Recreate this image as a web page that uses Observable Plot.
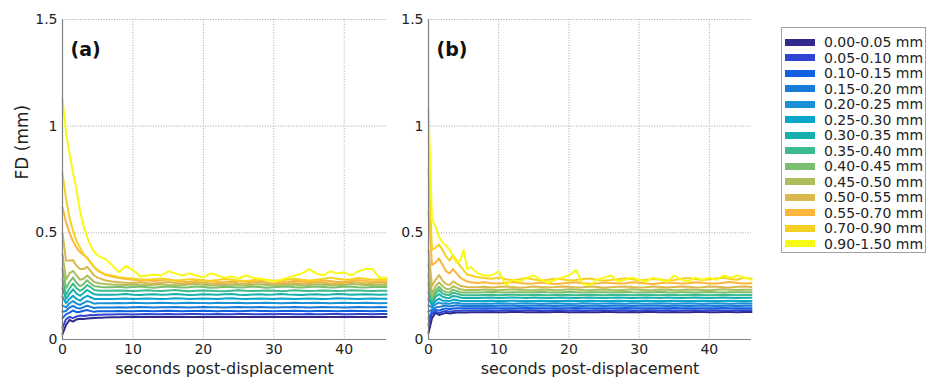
<!DOCTYPE html>
<html><head><meta charset="utf-8">
<script src="https://cdn.jsdelivr.net/npm/d3@7"></script>
<script src="https://cdn.jsdelivr.net/npm/@observablehq/plot@0.6"></script>
<style>
body{margin:0;background:#fff;font-family:"DejaVu Sans",sans-serif;}
#fig{position:relative;width:929px;height:388px;overflow:hidden;background:#fff}
#pa{position:absolute;left:0;top:0}
#pb{position:absolute;left:392px;top:0}
#legend{position:absolute;left:781px;top:27px;width:145px;height:226px;border:1px solid #a0a0a0;box-sizing:border-box;background:#fff}
.row{position:absolute;left:0;height:16px;display:flex;align-items:center;white-space:nowrap}
.sw{width:30px;height:7px;margin-left:3px;margin-right:9px}
.lb{font-size:14px;color:#222;font-family:"DejaVu Sans",sans-serif}
</style></head>
<body><div id="fig"><div id="pa"></div><div id="pb"></div><div id="legend"></div></div>
<script>
const time = [0,0.5,1,1.5,2,2.5,3,3.5,4,4.5,5,5.5,6,7,8,9,10,11,12,13,14,15,16,17,18,19,20,21,22,23,24,25,26,27,28,29,30,31,32,33,34,35,36,37,38,39,40,41,42,43,44,45,46];
const bins = ["0.00-0.05 mm","0.05-0.10 mm","0.10-0.15 mm","0.15-0.20 mm","0.20-0.25 mm","0.25-0.30 mm","0.30-0.35 mm","0.35-0.40 mm","0.40-0.45 mm","0.45-0.50 mm","0.50-0.55 mm","0.55-0.70 mm","0.70-0.90 mm","0.90-1.50 mm"];
const colors = ["#312a8a","#2f45d2","#1060e0","#1779d8","#1a90d6","#0aa5ca","#17b0ac","#3cbb8e","#7abf70","#acbd5c","#d9b84e","#fcb63b","#f5d124","#f9fa14"];
const xTicks = [0,10,20,30,40];
const yTicks = [0,0.5,1,1.5];

// panel (a)
const a0 = [0.025,0.068,0.092,0.084,0.094,0.097,0.096,0.098,0.1,0.101,0.102,0.102,0.103,
0.104,0.104,0.105,0.105,0.105,0.106,0.105,0.105,0.106,0.106,
0.105,0.105,0.106,0.106,0.105,0.106,0.106,0.105,0.105,0.106,
0.106,0.105,0.105,0.106,0.106,0.105,0.106,0.106,0.105,0.105,
0.106,0.106,0.105,0.105,0.106,0.106,0.105,0.106,0.106,0.106];
const a1 = [0.055,0.095,0.106,0.1,0.108,0.112,0.11,0.113,0.115,0.114,0.116,0.116,0.117,
0.117,0.118,0.118,0.117,0.118,0.119,0.118,0.118,0.119,0.118,
0.118,0.119,0.119,0.118,0.118,0.119,0.118,0.118,0.119,0.119,
0.118,0.118,0.119,0.118,0.119,0.119,0.118,0.118,0.119,0.118,
0.118,0.119,0.119,0.118,0.118,0.119,0.119,0.118,0.119,0.119];
const a2 = [0.1,0.118,0.126,0.136,0.128,0.13,0.135,0.138,0.133,0.13,0.132,0.133,0.133,
0.133,0.134,0.133,0.133,0.134,0.134,0.133,0.134,0.135,0.134,
0.133,0.134,0.134,0.135,0.134,0.133,0.134,0.134,0.133,0.134,
0.135,0.134,0.134,0.133,0.134,0.134,0.135,0.134,0.133,0.134,
0.134,0.134,0.133,0.134,0.135,0.134,0.134,0.133,0.134,0.134];
const a3 = [0.13,0.134,0.15,0.158,0.148,0.145,0.152,0.158,0.153,0.148,0.15,0.15,0.15,
0.15,0.151,0.15,0.151,0.152,0.151,0.15,0.151,0.151,0.152,
0.151,0.15,0.151,0.152,0.151,0.151,0.15,0.151,0.152,0.151,
0.151,0.152,0.151,0.15,0.151,0.151,0.152,0.151,0.15,0.151,
0.152,0.151,0.151,0.15,0.151,0.152,0.151,0.151,0.152,0.151];
const a4 = [0.16,0.15,0.17,0.18,0.168,0.162,0.172,0.18,0.175,0.168,0.17,0.17,0.17,
0.17,0.171,0.17,0.172,0.171,0.17,0.171,0.172,0.171,0.17,
0.171,0.172,0.171,0.171,0.17,0.172,0.171,0.171,0.172,0.17,
0.171,0.171,0.172,0.171,0.17,0.171,0.172,0.171,0.171,0.172,
0.171,0.17,0.171,0.172,0.171,0.171,0.172,0.171,0.17,0.171];
const a5 = [0.2,0.17,0.19,0.205,0.19,0.182,0.195,0.205,0.198,0.19,0.19,0.19,0.19,
0.19,0.191,0.192,0.19,0.191,0.192,0.191,0.19,0.191,0.193,
0.192,0.19,0.191,0.192,0.191,0.19,0.192,0.193,0.191,0.19,
0.191,0.192,0.191,0.19,0.192,0.191,0.19,0.191,0.192,0.191,
0.19,0.191,0.193,0.192,0.191,0.19,0.191,0.192,0.191,0.191];
const a6 = [0.24,0.19,0.215,0.235,0.215,0.205,0.218,0.232,0.222,0.212,0.21,0.21,0.21,
0.21,0.211,0.213,0.21,0.209,0.211,0.212,0.21,0.211,0.213,
0.211,0.209,0.21,0.212,0.211,0.21,0.212,0.213,0.21,0.209,
0.211,0.212,0.21,0.211,0.213,0.211,0.21,0.209,0.211,0.212,
0.21,0.211,0.213,0.212,0.21,0.211,0.212,0.211,0.21,0.211];
const a7 = [0.28,0.21,0.24,0.262,0.24,0.228,0.238,0.255,0.245,0.232,0.23,0.228,0.228,
0.228,0.23,0.229,0.227,0.229,0.231,0.228,0.227,0.23,0.232,
0.229,0.226,0.228,0.23,0.229,0.227,0.226,0.229,0.231,0.228,
0.227,0.229,0.23,0.228,0.226,0.228,0.231,0.229,0.227,0.228,
0.23,0.229,0.227,0.228,0.231,0.23,0.228,0.227,0.229,0.228];
const a8 = [0.33,0.24,0.27,0.29,0.265,0.25,0.26,0.278,0.262,0.25,0.248,0.246,0.245,
0.245,0.247,0.244,0.246,0.248,0.245,0.243,0.246,0.249,0.246,
0.244,0.245,0.248,0.246,0.243,0.244,0.247,0.246,0.244,0.245,
0.248,0.246,0.243,0.245,0.247,0.248,0.245,0.244,0.246,0.248,
0.246,0.244,0.245,0.248,0.247,0.245,0.244,0.246,0.247,0.246];
const a9 = [0.4,0.28,0.31,0.322,0.3,0.28,0.285,0.3,0.285,0.27,0.265,0.262,0.26,
0.258,0.257,0.256,0.258,0.255,0.254,0.257,0.259,0.256,0.254,
0.255,0.258,0.26,0.257,0.254,0.253,0.256,0.258,0.255,0.254,
0.257,0.259,0.256,0.253,0.255,0.258,0.257,0.254,0.256,0.259,
0.257,0.255,0.254,0.257,0.26,0.258,0.255,0.256,0.258,0.256];
const a10 = [0.5,0.37,0.37,0.372,0.345,0.33,0.33,0.34,0.32,0.3,0.29,0.284,0.278,
0.272,0.268,0.266,0.265,0.268,0.264,0.262,0.266,0.27,0.265,
0.262,0.264,0.268,0.266,0.262,0.26,0.265,0.268,0.264,0.262,
0.266,0.27,0.265,0.261,0.263,0.267,0.265,0.262,0.264,0.268,
0.266,0.263,0.262,0.266,0.27,0.267,0.263,0.265,0.268,0.265];
const a11 = [0.62,0.55,0.5,0.46,0.43,0.41,0.395,0.385,0.36,0.34,0.325,0.315,0.305,
0.295,0.288,0.283,0.28,0.277,0.276,0.274,0.278,0.282,0.275,
0.272,0.27,0.275,0.278,0.273,0.27,0.268,0.272,0.276,0.272,
0.27,0.274,0.278,0.272,0.268,0.27,0.275,0.273,0.27,0.272,
0.276,0.274,0.27,0.271,0.276,0.279,0.274,0.271,0.274,0.272];
const a12 = [0.78,0.66,0.57,0.51,0.46,0.43,0.4,0.38,0.36,0.34,0.322,0.312,0.305,
0.3,0.292,0.288,0.285,0.282,0.28,0.283,0.286,0.28,0.277,
0.279,0.283,0.281,0.277,0.275,0.279,0.284,0.28,0.276,0.274,
0.278,0.282,0.279,0.275,0.277,0.281,0.285,0.28,0.277,0.28,
0.284,0.29,0.285,0.28,0.283,0.288,0.285,0.28,0.282,0.28];
const a13 = [1.13,0.97,0.87,0.78,0.7,0.6,0.53,0.48,0.44,0.41,0.395,0.385,0.38,
0.35,0.315,0.345,0.325,0.295,0.3,0.305,0.3,0.32,0.31,
0.3,0.31,0.3,0.29,0.31,0.3,0.29,0.295,0.285,0.3,
0.29,0.285,0.28,0.272,0.28,0.29,0.3,0.31,0.33,0.31,
0.3,0.32,0.31,0.315,0.3,0.32,0.33,0.33,0.29,0.29];

// panel (b)
const b0 = [0.03,0.1,0.125,0.115,0.12,0.125,0.122,0.124,0.126,0.126,0.127,0.127,0.128,
0.128,0.128,0.129,0.128,0.128,0.129,0.129,0.128,0.128,0.129,
0.128,0.129,0.129,0.128,0.128,0.129,0.128,0.128,0.129,0.129,
0.128,0.128,0.129,0.128,0.129,0.129,0.128,0.128,0.129,0.128,
0.128,0.129,0.129,0.128,0.128,0.129,0.129,0.128,0.129,0.129];
const b1 = [0.07,0.12,0.13,0.122,0.13,0.134,0.13,0.133,0.135,0.135,0.136,0.136,0.136,
0.136,0.137,0.136,0.136,0.137,0.137,0.136,0.137,0.137,0.136,
0.136,0.137,0.137,0.136,0.137,0.136,0.136,0.137,0.137,0.136,
0.137,0.137,0.136,0.136,0.137,0.137,0.136,0.137,0.136,0.136,
0.137,0.137,0.136,0.137,0.137,0.136,0.136,0.137,0.137,0.137];
const b2 = [0.1,0.13,0.14,0.135,0.142,0.146,0.142,0.145,0.147,0.146,0.146,0.146,0.146,
0.146,0.147,0.146,0.147,0.147,0.146,0.147,0.148,0.147,0.146,
0.147,0.147,0.146,0.147,0.148,0.147,0.146,0.147,0.147,0.146,
0.147,0.148,0.147,0.146,0.147,0.147,0.146,0.147,0.148,0.147,
0.146,0.147,0.147,0.146,0.147,0.148,0.147,0.146,0.147,0.147];
const b3 = [0.13,0.14,0.15,0.153,0.156,0.159,0.155,0.158,0.16,0.158,0.157,0.157,0.157,
0.157,0.158,0.157,0.158,0.159,0.158,0.157,0.158,0.158,0.159,
0.158,0.157,0.158,0.159,0.158,0.157,0.158,0.158,0.157,0.158,
0.159,0.158,0.157,0.158,0.158,0.159,0.158,0.157,0.158,0.158,
0.157,0.158,0.159,0.158,0.157,0.158,0.158,0.157,0.158,0.158];
const b4 = [0.16,0.15,0.165,0.173,0.168,0.17,0.167,0.172,0.172,0.169,0.168,0.168,0.168,
0.168,0.169,0.168,0.17,0.169,0.168,0.169,0.17,0.169,0.168,
0.169,0.17,0.169,0.168,0.168,0.17,0.169,0.168,0.169,0.17,
0.169,0.168,0.17,0.169,0.168,0.169,0.17,0.169,0.168,0.169,
0.17,0.169,0.168,0.169,0.17,0.169,0.168,0.169,0.17,0.169];
const b5 = [0.19,0.16,0.18,0.192,0.182,0.182,0.18,0.187,0.185,0.181,0.18,0.18,0.18,
0.18,0.181,0.182,0.18,0.181,0.182,0.181,0.18,0.181,0.182,
0.181,0.18,0.181,0.182,0.181,0.18,0.182,0.181,0.18,0.181,
0.182,0.181,0.18,0.181,0.182,0.181,0.18,0.181,0.182,0.181,
0.18,0.181,0.182,0.181,0.18,0.181,0.182,0.181,0.181,0.181];
const b6 = [0.22,0.17,0.2,0.213,0.2,0.196,0.195,0.204,0.202,0.197,0.195,0.195,0.195,
0.195,0.196,0.197,0.195,0.196,0.197,0.196,0.195,0.197,0.196,
0.195,0.196,0.197,0.196,0.195,0.196,0.197,0.196,0.195,0.196,
0.197,0.196,0.195,0.196,0.197,0.196,0.195,0.197,0.196,0.195,
0.196,0.197,0.196,0.195,0.196,0.197,0.196,0.195,0.196,0.196];
const b7 = [0.26,0.18,0.215,0.232,0.215,0.21,0.208,0.219,0.216,0.21,0.208,0.208,0.208,
0.208,0.209,0.21,0.208,0.209,0.21,0.209,0.208,0.21,0.209,
0.208,0.209,0.21,0.209,0.208,0.209,0.21,0.209,0.208,0.209,
0.21,0.209,0.208,0.209,0.21,0.209,0.208,0.21,0.209,0.208,
0.209,0.21,0.209,0.208,0.209,0.21,0.209,0.208,0.209,0.209];
const b8 = [0.3,0.19,0.23,0.247,0.23,0.222,0.22,0.233,0.228,0.222,0.22,0.22,0.22,
0.22,0.221,0.223,0.221,0.22,0.222,0.221,0.22,0.222,0.223,
0.221,0.22,0.221,0.223,0.222,0.22,0.221,0.222,0.221,0.22,
0.222,0.223,0.221,0.22,0.221,0.222,0.223,0.221,0.22,0.222,
0.221,0.22,0.222,0.223,0.221,0.22,0.221,0.222,0.221,0.221];
const b9 = [0.35,0.21,0.25,0.267,0.25,0.238,0.235,0.25,0.243,0.235,0.233,0.232,0.232,
0.232,0.234,0.233,0.231,0.233,0.235,0.233,0.231,0.232,0.234,
0.233,0.231,0.232,0.235,0.234,0.232,0.231,0.233,0.234,0.232,
0.231,0.233,0.235,0.233,0.231,0.232,0.234,0.233,0.231,0.232,
0.234,0.233,0.232,0.231,0.233,0.235,0.233,0.232,0.233,0.233];
const b10 = [0.42,0.25,0.28,0.302,0.275,0.26,0.255,0.272,0.262,0.252,0.248,0.246,0.245,
0.245,0.247,0.244,0.246,0.248,0.246,0.243,0.245,0.248,0.246,
0.244,0.246,0.249,0.247,0.244,0.245,0.248,0.246,0.243,0.245,
0.247,0.249,0.246,0.244,0.245,0.248,0.246,0.244,0.246,0.248,
0.247,0.244,0.245,0.248,0.247,0.245,0.244,0.247,0.248,0.246];
const b11 = [0.6,0.35,0.36,0.38,0.35,0.32,0.31,0.33,0.31,0.29,0.28,0.272,0.268,
0.265,0.268,0.264,0.262,0.266,0.27,0.265,0.261,0.263,0.267,
0.264,0.26,0.262,0.266,0.268,0.264,0.261,0.263,0.267,0.265,
0.262,0.264,0.268,0.266,0.262,0.26,0.264,0.267,0.265,0.262,
0.264,0.268,0.266,0.263,0.262,0.266,0.269,0.265,0.263,0.264];
const b12 = [0.8,0.42,0.43,0.445,0.42,0.39,0.37,0.395,0.37,0.345,0.325,0.305,0.3,
0.292,0.288,0.285,0.29,0.282,0.278,0.283,0.288,0.281,0.276,
0.28,0.285,0.282,0.277,0.279,0.284,0.286,0.28,0.276,0.279,
0.283,0.287,0.282,0.277,0.28,0.284,0.281,0.277,0.279,0.285,
0.288,0.283,0.279,0.281,0.286,0.289,0.284,0.28,0.29,0.285];
const b13 = [1.08,0.56,0.53,0.48,0.455,0.44,0.42,0.39,0.36,0.37,0.42,0.33,0.34,
0.31,0.3,0.3,0.32,0.255,0.28,0.27,0.29,0.3,0.28,
0.265,0.28,0.29,0.3,0.325,0.26,0.255,0.28,0.29,0.3,
0.272,0.28,0.29,0.28,0.272,0.29,0.28,0.27,0.3,0.28,
0.272,0.29,0.28,0.29,0.28,0.3,0.29,0.3,0.29,0.28];

const panelA = [a0,a1,a2,a3,a4,a5,a6,a7,a8,a9,a10,a11,a12,a13];
const panelB = [b0,b1,b2,b3,b4,b5,b6,b7,b8,b9,b10,b11,b12,b13];

function panel(series, tag, width, mL, mR, withYLabel) {
  const rows = [];
  series.forEach((vals, k) => vals.forEach((v, i) => rows.push({t: time[i], fd: v, bin: bins[k]})));
  const marks = [
    Plot.gridX(xTicks.filter(d => d > 0), {stroke: "#a8a8a8", strokeOpacity: 1, strokeDasharray: "1,1.6"}),
    Plot.gridY(yTicks.filter(d => d > 0), {stroke: "#a8a8a8", strokeOpacity: 1, strokeDasharray: "1,1.6"}),
    Plot.lineY(rows, {x: "t", y: "fd", z: "bin", stroke: "bin", strokeWidth: 2, strokeLinejoin: "round"}),
    Plot.ruleX([0], {stroke: "#808080", strokeWidth: 1.2}),
    Plot.ruleY([0], {stroke: "#808080", strokeWidth: 1.2}),
    Plot.axisX(xTicks, {tickSize: 0, tickPadding: 5, label: null, fontSize: 14, fill: "#222"}),
    Plot.axisY(yTicks, {tickSize: 0, tickPadding: 5, label: null, fontSize: 14, fill: "#222", tickFormat: d => String(d)}),
    Plot.text(["seconds post-displacement"], {text: d => d, frameAnchor: "bottom", dy: 34, fontSize: 16, fill: "#222"}),
    Plot.text([tag], {text: d => d, frameAnchor: "top-left", dx: 8, dy: 23, fontSize: 19, fontWeight: "bold", fill: "#111"})
  ];
  if (withYLabel) marks.push(Plot.text(["FD (mm)"], {text: d => d, frameAnchor: "left", dx: -40, rotate: -90, fontSize: 17, fill: "#222"}));
  return Plot.plot({
    width, height: 388,
    marginLeft: mL, marginRight: mR, marginTop: 19, marginBottom: 49,
    style: {fontFamily: "DejaVu Sans", background: "transparent", overflow: "visible"},
    x: {domain: [0, 46]},
    y: {domain: [0, 1.5]},
    color: {type: "ordinal", domain: bins, range: colors},
    marks
  });
}

document.getElementById("pa").appendChild(panel(panelA, "(a)", 392, 62, 6, true));
document.getElementById("pb").appendChild(panel(panelB, "(b)", 368, 36, 9, false));

const legend = document.getElementById("legend");
bins.forEach((b, i) => {
  const row = document.createElement("div");
  row.className = "row";
  row.style.top = (6 + i * 15.5) + "px";
  const sw = document.createElement("div");
  sw.className = "sw";
  sw.style.background = colors[i];
  const lb = document.createElement("span");
  lb.className = "lb";
  lb.textContent = b;
  row.appendChild(sw); row.appendChild(lb);
  legend.appendChild(row);
});
</script>
</body></html>
